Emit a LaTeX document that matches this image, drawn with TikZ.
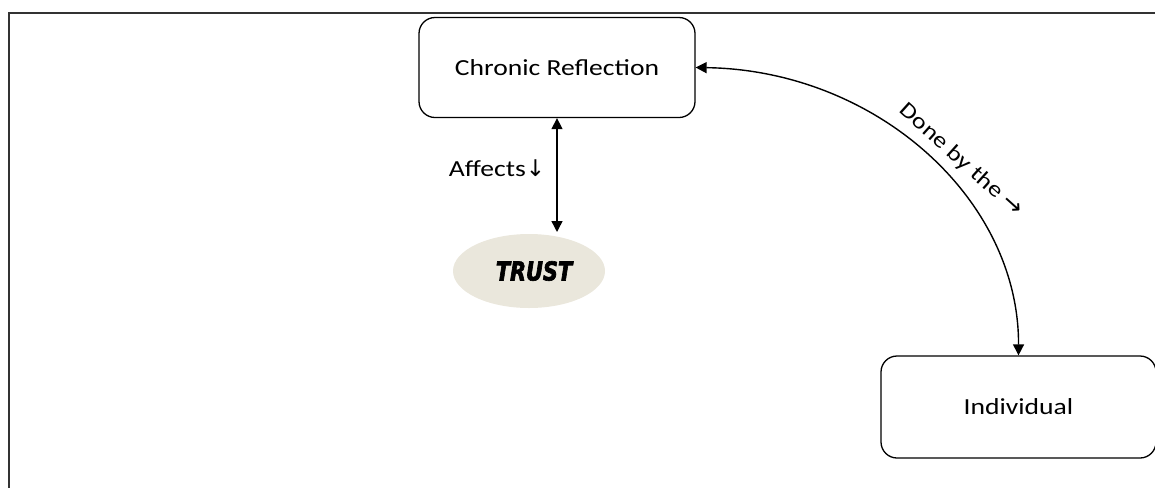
\documentclass[tikz,border=0pt]{standalone}
\usepackage{fontspec}
\setmainfont{Carlito}[FakeStretch=1.2]
\newfontfamily\arrowfont{DejaVu Sans}[FakeStretch=1.0]
\newfontfamily\heavyfont{DejaVu Sans}[UprightFont={* Bold Oblique}, FakeBold=2.5, FakeStretch=0.8]
\usetikzlibrary{arrows.meta,shapes.geometric}
\definecolor{trustfill}{HTML}{EAE7DC}
\definecolor{framegray}{HTML}{333333}
\tikzset{
  roundbox/.style={draw, line width=1.3pt, rounded corners=16pt,
    minimum width=276pt, minimum height=100pt, inner sep=0pt,
    font=\fontsize{23}{27}\selectfont},
  link/.style={line width=1.4pt, {Triangle[width=11pt,length=11pt]}-{Triangle[width=11pt,length=11pt]}},
  lbl/.style={inner sep=0pt, font=\fontsize{23}{27}\selectfont},
}
\begin{document}
\begin{tikzpicture}[x=1pt,y=-1pt]
  \useasboundingbox (0,0) rectangle (1155,488);
  % outer frame (only top and left edges fall inside the page)
  \draw[framegray, line width=2pt] (1155,13) -- (9,13) -- (9,488);

  % nodes
  \node[roundbox] (cr) at (557,67.5) {Chronic Reflection};
  \node[roundbox, minimum width=275pt, minimum height=102pt] (ind) at (1018.5,407) {Individual};
  \node[ellipse, fill=trustfill, minimum width=152pt, minimum height=74pt, inner sep=0pt] (trust) at (529,271)
    {\hspace*{10pt}\heavyfont\fontsize{26}{29}\selectfont TRUST};

  % connectors
  \coordinate (tt) at (557,232);
  \draw[link] (cr.south) -- (tt);
  \draw[link] (cr.east) .. controls (875,70) and (1019,198) .. (ind.north);

  % connector labels
  \node[lbl] (aff) at (497,168) {Affects{\arrowfont\fontsize{23}{26}\selectfont ↓}};
  \node[lbl, rotate=-42, font=\fontsize{22}{26}\selectfont] (done) at (961,160) {Done by the {\arrowfont\fontsize{24}{26}\selectfont →}};
\end{tikzpicture}
\end{document}
